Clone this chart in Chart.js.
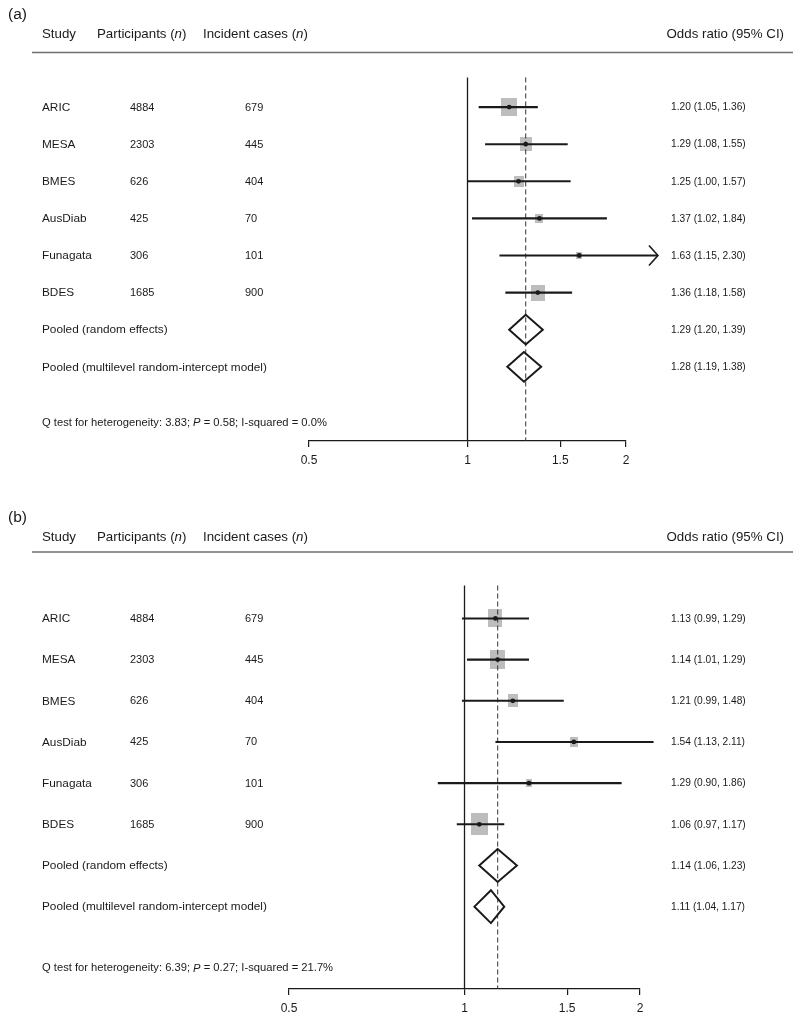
<!DOCTYPE html>
<html>
<head>
<meta charset="utf-8">
<title>Forest plots</title>
<script src="https://cdn.jsdelivr.net/npm/chart.js@4.4.1/dist/chart.umd.min.js"></script>
<style>
  html, body { margin: 0; padding: 0; background: #fff; }
  #wrap { position: relative; width: 800px; height: 1021px; }
  canvas { position: absolute; left: 0; }
  #chart-a { top: 0; }
  #chart-b { top: 505px; }
</style>
</head>
<body>
<div id="wrap">
  <canvas id="chart-a" width="800" height="505"></canvas>
  <canvas id="chart-b" width="800" height="516"></canvas>
</div>
<script>
const studies = ['ARIC', 'MESA', 'BMES', 'AusDiab', 'Funagata', 'BDES'];
const participants = [4884, 2303, 626, 425, 306, 1685];
const incidentCases = [679, 445, 404, 70, 101, 900];
const pooledLabels = ['Pooled (random effects)', 'Pooled (multilevel random-intercept model)'];
const xTicks = [0.5, 1, 1.5, 2];

// panel (a)
const orA = [1.20, 1.29, 1.25, 1.37, 1.63, 1.36];
const lowA = [1.05, 1.08, 1.00, 1.02, 1.15, 1.18];
const highA = [1.36, 1.55, 1.57, 1.84, 2.30, 1.58];
const weightA = [30.9, 18.1, 12.4, 8.5, 5.3, 24.8];
const pooledOrA = [1.29, 1.28];
const pooledLowA = [1.20, 1.19];
const pooledHighA = [1.39, 1.38];
const qTestA = ['3.83', '0.58', '0.0%'];

// panel (b)
const orB = [1.13, 1.14, 1.21, 1.54, 1.29, 1.06];
const lowB = [0.99, 1.01, 0.99, 1.13, 0.90, 0.97];
const highB = [1.29, 1.29, 1.48, 2.11, 1.86, 1.17];
const weightB = [21.5, 24.7, 11.6, 6.5, 4.0, 31.7];
const pooledOrB = [1.14, 1.11];
const pooledLowB = [1.06, 1.04];
const pooledHighB = [1.23, 1.17];
const qTestB = ['6.39', '0.27', '21.7%'];

const FONT = '"Liberation Sans", Arial, Helvetica, sans-serif';
const INK = '#1a1a1a';
const ROW_TOP = -0.8;
const ROW_BOTTOM = 9;
const Q_ROW = 8.5;
const ARROW_ABOVE = 2.2;

function fmt(n) {
  return n.toFixed(2);
}

function rectImage(w, h) {
  const c = document.createElement('canvas');
  c.width = Math.max(1, Math.round(w));
  c.height = Math.max(1, Math.round(h));
  const g = c.getContext('2d');
  g.fillStyle = '#bdbdbd';
  g.fillRect(0, 0, c.width, c.height);
  return c;
}

function drawParts(ctx, parts, x, y, size, align) {
  const fonts = parts.map((p) => `${p[1] ? 'italic ' : ''}${size}px ${FONT}`);
  let total = 0;
  parts.forEach((p, i) => {
    ctx.font = fonts[i];
    total += ctx.measureText(p[0]).width;
  });
  let cx = align === 'right' ? x - total : x;
  ctx.textAlign = 'left';
  ctx.textBaseline = 'middle';
  parts.forEach((p, i) => {
    ctx.font = fonts[i];
    ctx.fillText(p[0], cx, y);
    cx += ctx.measureText(p[0]).width;
  });
}

const forestText = {
  id: 'forestText',
  afterDatasetsDraw(chart, args, opts) {
    const ctx = chart.ctx;
    const xs = chart.scales.x;
    const ys = chart.scales.y;
    const d = opts.data;
    ctx.save();
    ctx.strokeStyle = INK;
    ctx.lineWidth = 1.6;
    d.high.forEach((h, i) => {
      if (h <= ARROW_ABOVE) return;
      const px = xs.getPixelForValue(h);
      const py = ys.getPixelForValue(i);
      ctx.beginPath();
      ctx.moveTo(px - 9, py - 10);
      ctx.lineTo(px, py);
      ctx.lineTo(px - 9, py + 10);
      ctx.stroke();
    });
    ctx.restore();
  },
  afterDraw(chart, args, opts) {
    const ctx = chart.ctx;
    const ys = chart.scales.y;
    const d = opts.data;
    const cfg = opts.cfg;
    ctx.save();
    ctx.fillStyle = INK;

    drawParts(ctx, [[cfg.label, false]], 8, cfg.labelY, 15.5);
    drawParts(ctx, [['Study', false]], 42, cfg.headerY, 13.3);
    drawParts(ctx, [['Participants (', false], ['n', true], [')', false]], 97, cfg.headerY, 13.3);
    drawParts(ctx, [['Incident cases (', false], ['n', true], [')', false]], 203, cfg.headerY, 13.3);
    drawParts(ctx, [['Odds ratio (95% CI)', false]], 784, cfg.headerY, 13.3, 'right');

    ctx.strokeStyle = '#6e6e6e';
    ctx.lineWidth = 1.3;
    ctx.beginPath();
    ctx.moveTo(32, cfg.ruleY);
    ctx.lineTo(793, cfg.ruleY);
    ctx.stroke();

    studies.forEach((s, i) => {
      const py = ys.getPixelForValue(i) + 0.5;
      drawParts(ctx, [[s, false]], 42, py, 11.8);
      drawParts(ctx, [[String(participants[i]), false]], 130, py, 11);
      drawParts(ctx, [[String(incidentCases[i]), false]], 245, py, 11);
      drawParts(ctx, [[`${fmt(d.or[i])} (${fmt(d.low[i])}, ${fmt(d.high[i])})`, false]], 671, py, 10.2);
    });
    pooledLabels.forEach((s, j) => {
      const py = ys.getPixelForValue(studies.length + j) + 0.5;
      drawParts(ctx, [[s, false]], 42, py, 11.8);
      drawParts(ctx, [[`${fmt(d.pooledOr[j])} (${fmt(d.pooledLow[j])}, ${fmt(d.pooledHigh[j])})`, false]], 671, py, 10.2);
    });
    const qy = ys.getPixelForValue(Q_ROW);
    drawParts(ctx, [
      [`Q test for heterogeneity: ${d.q[0]}; `, false], ['P', true],
      [` = ${d.q[1]}; I-squared = ${d.q[2]}`, false],
    ], 42, qy, 11.2);
    ctx.restore();
  },
};

function buildDatasets(d, cfg) {
  const sets = [];
  sets.push({
    data: d.or.map((v, i) => ({ x: v, y: i })),
    pointStyle: d.weight.map((w) => rectImage(Math.sqrt(w) * cfg.sq, Math.sqrt(w) * cfg.sq * cfg.aspect)),
    pointRadius: 6,
    order: 8,
  });
  d.or.forEach((v, i) => {
    sets.push({
      data: [{ x: d.low[i], y: i }, { x: d.high[i], y: i }],
      showLine: true,
      borderColor: INK,
      borderWidth: 2.1,
      pointRadius: 0,
      clip: false,
      order: 4,
    });
  });
  sets.push({
    data: d.or.map((v, i) => ({ x: v, y: i })),
    pointStyle: 'circle',
    pointRadius: 2.4,
    backgroundColor: INK,
    borderWidth: 0,
    order: 1,
  });
  d.pooledOr.forEach((v, j) => {
    const row = studies.length + j;
    const lo = d.pooledLow[j];
    const hi = d.pooledHigh[j];
    sets.push({
      data: [
        { x: lo, y: row }, { x: v, y: row - 0.4 }, { x: hi, y: row },
        { x: v, y: row + 0.4 }, { x: lo, y: row }, { x: v, y: row - 0.4 },
      ],
      showLine: true,
      borderColor: INK,
      borderWidth: 2,
      borderJoinStyle: 'miter',
      pointRadius: 0,
      clip: false,
      order: 2,
    });
  });
  sets.push({
    data: [{ x: 1, y: ROW_TOP }, { x: 1, y: ROW_BOTTOM }],
    showLine: true,
    borderColor: INK,
    borderWidth: 1.3,
    pointRadius: 0,
    clip: false,
    order: 6,
  });
  sets.push({
    data: [{ x: d.pooledOr[0], y: ROW_TOP }, { x: d.pooledOr[0], y: ROW_BOTTOM }],
    showLine: true,
    borderColor: '#333',
    borderWidth: 1,
    borderDash: [5, 3],
    pointRadius: 0,
    clip: false,
    order: 5,
  });
  return sets;
}

function makeChart(canvasId, d, cfg) {
  const canvas = document.getElementById(canvasId);
  const axisH = 32;
  return new Chart(canvas, {
    type: 'scatter',
    data: { datasets: buildDatasets(d, cfg) },
    options: {
      responsive: false,
      animation: false,
      events: [],
      devicePixelRatio: 1,
      layout: {
        padding: {
          left: cfg.left,
          right: canvas.width - cfg.right,
          top: cfg.top,
          bottom: canvas.height - cfg.bottom - axisH,
        },
      },
      plugins: {
        legend: { display: false },
        tooltip: { enabled: false },
        forestText: { data: d, cfg: cfg },
      },
      scales: {
        x: {
          type: 'logarithmic',
          min: 0.5,
          max: 2,
          afterBuildTicks: (s) => { s.ticks = xTicks.map((v) => ({ value: v })); },
          afterFit: (s) => { s.height = axisH; },
          ticks: {
            callback: (v) => String(v),
            color: INK,
            font: { size: 12, family: FONT },
            padding: 6,
            maxRotation: 0,
            autoSkip: false,
          },
          grid: { drawOnChartArea: false, drawTicks: true, tickLength: 6, color: INK, lineWidth: 1.2 },
          border: { display: true, color: INK, width: 1.2 },
        },
        y: {
          type: 'linear',
          reverse: true,
          min: ROW_TOP,
          max: ROW_BOTTOM,
          display: false,
        },
      },
    },
    plugins: [forestText],
  });
}

function init() {
  makeChart('chart-a', {
    or: orA, low: lowA, high: highA, weight: weightA,
    pooledOr: pooledOrA, pooledLow: pooledLowA, pooledHigh: pooledHighA, q: qTestA,
  }, {
    label: '(a)', labelY: 15, headerY: 34.5, ruleY: 52.5,
    left: 309, right: 626, top: 77.4, bottom: 441, sq: 2.8, aspect: 1.14,
  });
  makeChart('chart-b', {
    or: orB, low: lowB, high: highB, weight: weightB,
    pooledOr: pooledOrB, pooledLow: pooledLowB, pooledHigh: pooledHighB, q: qTestB,
  }, {
    label: '(b)', labelY: 12.5, headerY: 32.5, ruleY: 47,
    left: 289, right: 640, top: 80.5, bottom: 484, sq: 3.05, aspect: 1.26,
  });
}

document.addEventListener('DOMContentLoaded', init);
</script>
</body>
</html>
